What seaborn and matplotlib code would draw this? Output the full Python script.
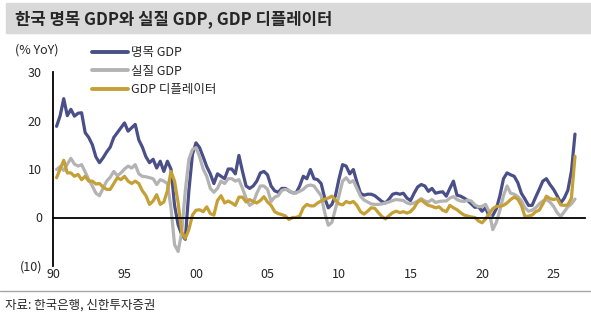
import numpy as np
import pandas as pd
import matplotlib
matplotlib.use('Agg')
import matplotlib.pyplot as plt
import seaborn as sns
from matplotlib.patches import Rectangle
from matplotlib.lines import Line2D

# quarterly YoY % (starts 1990Q2)
nominal = [18.8, 21, 24.5, 21, 22.3, 20.9, 21.5, 21.6, 17.5, 16.5,
           15, 12.5, 11.3, 12.3, 13.5, 14.5, 16.5, 17.5, 18.5, 19.5,
           17.8, 18.5, 19.2, 16, 14.5, 12.5, 11.3, 12, 10.2, 11.6,
           9.5, 11.6, 10, 2.5, -1.5, -3.5, -4.5, 5.5, 13, 15.4,
           14.4, 12.5, 10.5, 9, 7, 9, 8.5, 8, 10, 10,
           9, 12.8, 9.5, 6.5, 6, 6.5, 7.5, 9.2, 9.5, 8.8,
           6.5, 5.5, 5.2, 6, 6, 5.5, 5.1, 5.1, 6.5, 8.5,
           8, 9.9, 8, 7.8, 7, 4, 2, 2.7, 4.5, 8,
           10.9, 10.6, 9, 9.9, 7.3, 5, 4.6, 4.8, 4.8, 4.5,
           3.9, 3.3, 3, 3.8, 4.8, 5, 4.8, 5, 4, 3.5,
           5, 6.3, 6.8, 6.5, 5.4, 6, 5, 5.2, 5.3, 4.4,
           6, 7.5, 4.6, 4.4, 4, 3.5, 2.8, 2.1, 2.2, 1.3,
           2, 0.2, 0.4, 1.8, 4.5, 8, 9.2, 8.8, 8.5, 7.2,
           5, 3.8, 2.5, 2.5, 4.2, 5.8, 7.5, 8, 6.8, 5.8,
           4.5, 3, 4, 5.6, 9.5, 17.2]
real = [9.9, 10.5, 9.7, 11, 12.2, 11, 10.6, 10.9, 9.4, 7.8,
        6.5, 5, 4.5, 6, 7.5, 8.3, 9.5, 8.6, 9.2, 10,
        10.6, 10.2, 10.9, 9, 8.5, 8.4, 8.2, 8, 6.8, 7.8,
        7.5, 7, 2, -5.6, -7, -3, 5.5, 12, 14, 14.4,
        12.5, 10, 8.5, 6, 5.2, 6, 7.5, 7, 8, 8,
        7.5, 7.8, 6, 4, 2.5, 3, 5, 6.5, 6.5, 5.8,
        3.3, 4.2, 4.5, 5.6, 5.8, 5.6, 5.1, 5.1, 5.4, 5.8,
        6.5, 6.7, 6.5, 5.5, 4.5, 1, -1.6, -1, 1.8, 4.5,
        7.5, 8.2, 7.2, 7.6, 6, 4.4, 3.6, 3.2, 2.8, 2.7,
        2.7, 2.8, 3, 3.2, 3.5, 3.7, 3.6, 3.5, 3, 2.8,
        3, 3.4, 3.9, 3.4, 3.2, 3.7, 3.1, 3.3, 3.4, 3.4,
        4, 4.3, 3.7, 3.4, 3.3, 3.6, 3.4, 2.6, 2.2, 2.3,
        2.7, 1.2, -2.5, -1, 1.5, 4.5, 6.5, 5, 4.8, 4.3,
        3.5, 2, 1.3, 1.5, 2, 2.8, 3.4, 3.7, 3.2, 2.3,
        1, 0.2, 1.2, 2.2, 2.8, 3.8]
deflator = [8.2, 10, 11.8, 9.2, 9.2, 8.5, 8.9, 7.8, 8.5, 7.5,
            7.5, 6.9, 7, 6.3, 5.8, 5.8, 7, 8.2, 7.8, 8.5,
            7.5, 7, 7.5, 7, 5.5, 4.5, 2.7, 3.4, 4.7, 2.7,
            3.2, 5.5, 9.5, 7.5, 3, -3, -4.3, -2.5, 0.5, 1.5,
            1.6, 1.2, 2.2, 0.8, 0.5, 3.5, 4.5, 3, 3.4, 3,
            2.5, 4.2, 4.2, 3.2, 3.7, 3.3, 3, 3.5, 4.3, 3.2,
            2.5, 1.2, 0.8, 0.6, 0.3, -0.4, 0, 0, 0.3, 2,
            2.7, 2.4, 2.4, 3, 3.4, 3.8, 4, 4.4, 3.6, 2.8,
            2.6, 3.3, 3, 3.3, 2.5, 1.2, 0.7, 1.3, 2, 1.9,
            1, 0.2, -0.3, 0.4, 1, 1.3, 1, 1.2, 0.9, 1.2,
            2, 3.2, 3.6, 3, 2.5, 2.3, 2, 2.2, 1.5, 1.2,
            2.5, 2, 1.6, 1, 0.5, 0.3, 0.1, 0, -0.7, -1.1,
            -0.3, 0.8, 1.8, 2.3, 2.3, 2.5, 3, 3.7, 4.2, 3.8,
            2.5, 0.2, 0.3, 0.5, 1.2, 1.5, 2.8, 4.4, 3.9, 3.7,
            3.9, 2.6, 2.5, 2.6, 4, 12.6]

labels = ['명목 GDP', '실질 GDP', 'GDP 디플레이터']
colors = ['#4a4f88', '#b3b3b3', '#c4a037']
xticks = [1990, 1995, 2000, 2005, 2010, 2015, 2020, 2025]
xticklabels = ['90', '95', '00', '05', '10', '15', '20', '25']
yticks = [-10, 0, 10, 20, 30]
yticklabels = ['(10)', '0', '10', '20', '30']

t = 1990.25 + 0.25 * np.arange(len(nominal))
df = pd.DataFrame({'t': np.tile(t, 3),
                   'v': nominal + real + deflator,
                   'series': np.repeat(labels, len(t))})

sns.set_style('white')
plt.rcParams['font.family'] = ['Noto Sans CJK KR', 'DejaVu Sans']

fig = plt.figure(figsize=(5.91, 3.2), dpi=100)
ax = fig.add_axes([53/591, 1-266/320, (585-53)/591, (266-72)/320])

sns.lineplot(data=df, x='t', y='v', hue='series', hue_order=labels,
             palette=colors, linewidth=2.3, ax=ax, legend=False)
for ln in ax.lines:
    ln.set_solid_joinstyle('round')
    ln.set_solid_capstyle('round')

ax.set_xlim(1990, 2027.2)
ax.set_ylim(-10, 30)
ax.set_xticks(xticks)
ax.set_xticklabels(xticklabels)
ax.set_yticks(yticks)
ax.set_yticklabels(yticklabels)
ax.set_xlabel('')
ax.set_ylabel('')

for s in ['top', 'right']:
    ax.spines[s].set_visible(False)
ax.spines['bottom'].set_position(('data', 0))
ax.spines['bottom'].set_color('black')
ax.spines['left'].set_color('black')
ax.spines['bottom'].set_linewidth(1.3)
ax.spines['left'].set_linewidth(1.3)
ax.tick_params(axis='x', direction='out', length=3, width=1, pad=33, labelsize=9)
ax.tick_params(axis='y', direction='out', length=3, width=1, pad=5, labelsize=9)

handles = [Line2D([0], [0], color=c, lw=2.8) for c in colors]
fig.legend(handles, labels, loc='upper left', bbox_to_anchor=(92/591, 1-46/320),
           frameon=False, fontsize=9, handlelength=2.9, handletextpad=0.25,
           labelspacing=0.45, borderpad=0, borderaxespad=0)

fig.patches.append(Rectangle((6/591, 1-33/320), 1-6/591, 30/320,
                             transform=fig.transFigure, color='#d9d9d9', zorder=0))
fig.text(15/591, 1-19/320, '한국 명목 GDP와 실질 GDP, GDP 디플레이터',
         fontsize=12, fontweight='bold', va='center')
fig.text(15/591, 1-50/320, '(% YoY)', fontsize=9, va='center')
fig.add_artist(Line2D([0, 1], [1-291/320, 1-291/320], color='#a6a6a6', lw=1,
                      transform=fig.transFigure))
fig.text(5/591, 1-305/320, '자료: 한국은행, 신한투자증권', fontsize=9, va='center')

fig.savefig('out.png', dpi=100)
